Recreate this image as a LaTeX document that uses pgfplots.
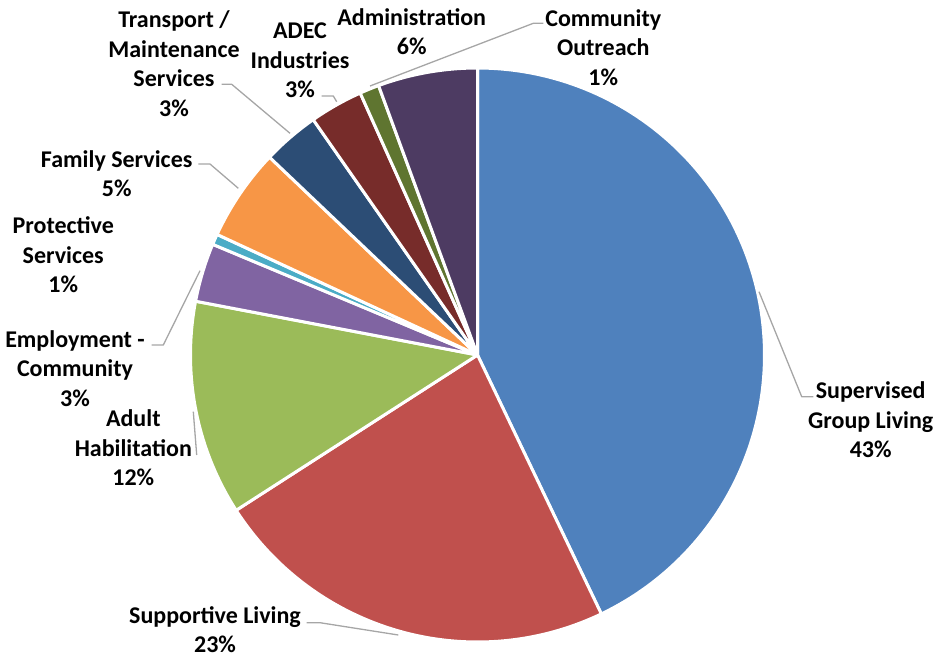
\documentclass[border=0pt]{standalone}
\usepackage{pgfplots}
\pgfplotsset{compat=1.18}
\usepackage{fontspec}
\setmainfont{Carlito}
\definecolor{c1}{HTML}{4F81BD}
\definecolor{c2}{HTML}{C0504D}
\definecolor{c3}{HTML}{9BBB59}
\definecolor{c4}{HTML}{8064A2}
\definecolor{c5}{HTML}{4BACC6}
\definecolor{c6}{HTML}{F79646}
\definecolor{c7}{HTML}{2C4D75}
\definecolor{c8}{HTML}{772C2A}
\definecolor{c9}{HTML}{5F7530}
\definecolor{c10}{HTML}{4D3B62}
\definecolor{lead}{HTML}{A6A6A6}
% slice shares in percent (clockwise from 12 o'clock)
% Supervised Group Living 42.9, Supportive Living 23.0, Adult Habilitation 12.1,
% Employment - Community 3.3, Protective Services 0.6, Family Services 5.2,
% Transport / Maintenance 3.2, ADEC Industries 3.0, Community Outreach 1.1, Administration 5.6
\begin{document}
\begin{tikzpicture}
\begin{axis}[hide axis, scale only axis, width=934pt, height=655pt,
  xmin=0, xmax=934, ymin=0, ymax=655, y dir=reverse, clip=false,
  every axis plot/.append style={line join=round}]
\pgfplotsset{wedge/.style={draw=white, line width=3pt, samples=120, variable=\t}}
\addplot[wedge, fill=c1, domain={3.6*0}:{3.6*42.9}] ({477.5+287*sin(t)},{355-287*cos(t)}) -- (axis cs:477.5,355) -- cycle;
\addplot[wedge, fill=c2, domain={3.6*42.9}:{3.6*65.9}] ({477.5+287*sin(t)},{355-287*cos(t)}) -- (axis cs:477.5,355) -- cycle;
\addplot[wedge, fill=c3, domain={3.6*65.9}:{3.6*78.0}] ({477.5+287*sin(t)},{355-287*cos(t)}) -- (axis cs:477.5,355) -- cycle;
\addplot[wedge, fill=c4, domain={3.6*78.0}:{3.6*81.3}] ({477.5+287*sin(t)},{355-287*cos(t)}) -- (axis cs:477.5,355) -- cycle;
\addplot[wedge, fill=c5, domain={3.6*81.3}:{3.6*81.9}] ({477.5+287*sin(t)},{355-287*cos(t)}) -- (axis cs:477.5,355) -- cycle;
\addplot[wedge, fill=c6, domain={3.6*81.9}:{3.6*87.1}] ({477.5+287*sin(t)},{355-287*cos(t)}) -- (axis cs:477.5,355) -- cycle;
\addplot[wedge, fill=c7, domain={3.6*87.1}:{3.6*90.3}] ({477.5+287*sin(t)},{355-287*cos(t)}) -- (axis cs:477.5,355) -- cycle;
\addplot[wedge, fill=c8, domain={3.6*90.3}:{3.6*93.3}] ({477.5+287*sin(t)},{355-287*cos(t)}) -- (axis cs:477.5,355) -- cycle;
\addplot[wedge, fill=c9, domain={3.6*93.3}:{3.6*94.4}] ({477.5+287*sin(t)},{355-287*cos(t)}) -- (axis cs:477.5,355) -- cycle;
\addplot[wedge, fill=c10, domain={3.6*94.4}:{3.6*100}] ({477.5+287*sin(t)},{355-287*cos(t)}) -- (axis cs:477.5,355) -- cycle;
% leader lines
\pgfplotsset{leader/.style={draw=lead, line width=1.3pt, mark=none}}
\addplot[leader] coordinates {(543.3,23.3) (533.3,23.3) (370,86)};
\addplot[leader] coordinates {(813.3,396.7) (801.7,396.7) (759,291.7)};
\addplot[leader] coordinates {(306.7,622.7) (320,622.7) (398.3,635)};
\addplot[leader] coordinates {(151.7,345) (163.3,345) (200,270.7)};
\addplot[leader] coordinates {(196.7,455) (193.3,411.7)};
\addplot[leader] coordinates {(221.7,84.3) (231.7,84.3) (290,133.3)};
\addplot[leader] coordinates {(321.7,96) (333.3,96) (336.7,101.7)};
\addplot[leader] coordinates {(198.3,164) (210,164) (238.3,188.3)};
% labels
\tikzset{lbl/.style={align=center, inner sep=0pt, font=\fontsize{24}{29.5}\selectfont\bfseries}}
\node[lbl] at (axis cs:411.7,31.7) {Administration\\6\%};
\node[lbl] at (axis cs:603.3,47.2) {Community\\Outreach\\1\%};
\node[lbl] at (axis cs:300,60.3) {ADEC\\Industries\\3\%};
\node[lbl] at (axis cs:174,63.6) {Transport /\\Maintenance\\Services\\3\%};
\node[lbl] at (axis cs:116.7,173.8) {Family Services\\5\%};
\node[lbl] at (axis cs:63.3,255) {Protective\\Services\\1\%};
\node[lbl] at (axis cs:75,368.5) {Employment -\\Community\\3\%};
\node[lbl] at (axis cs:133.3,448) {Adult\\Habilitation\\12\%};
\node[lbl] at (axis cs:870.7,420) {Supervised\\Group Living\\43\%};
\node[lbl] at (axis cs:215,629.5) {Supportive Living\\23\%};
\end{axis}
\pgfresetboundingbox
\useasboundingbox (current axis.south west) rectangle (current axis.north east);
\end{tikzpicture}
\end{document}
